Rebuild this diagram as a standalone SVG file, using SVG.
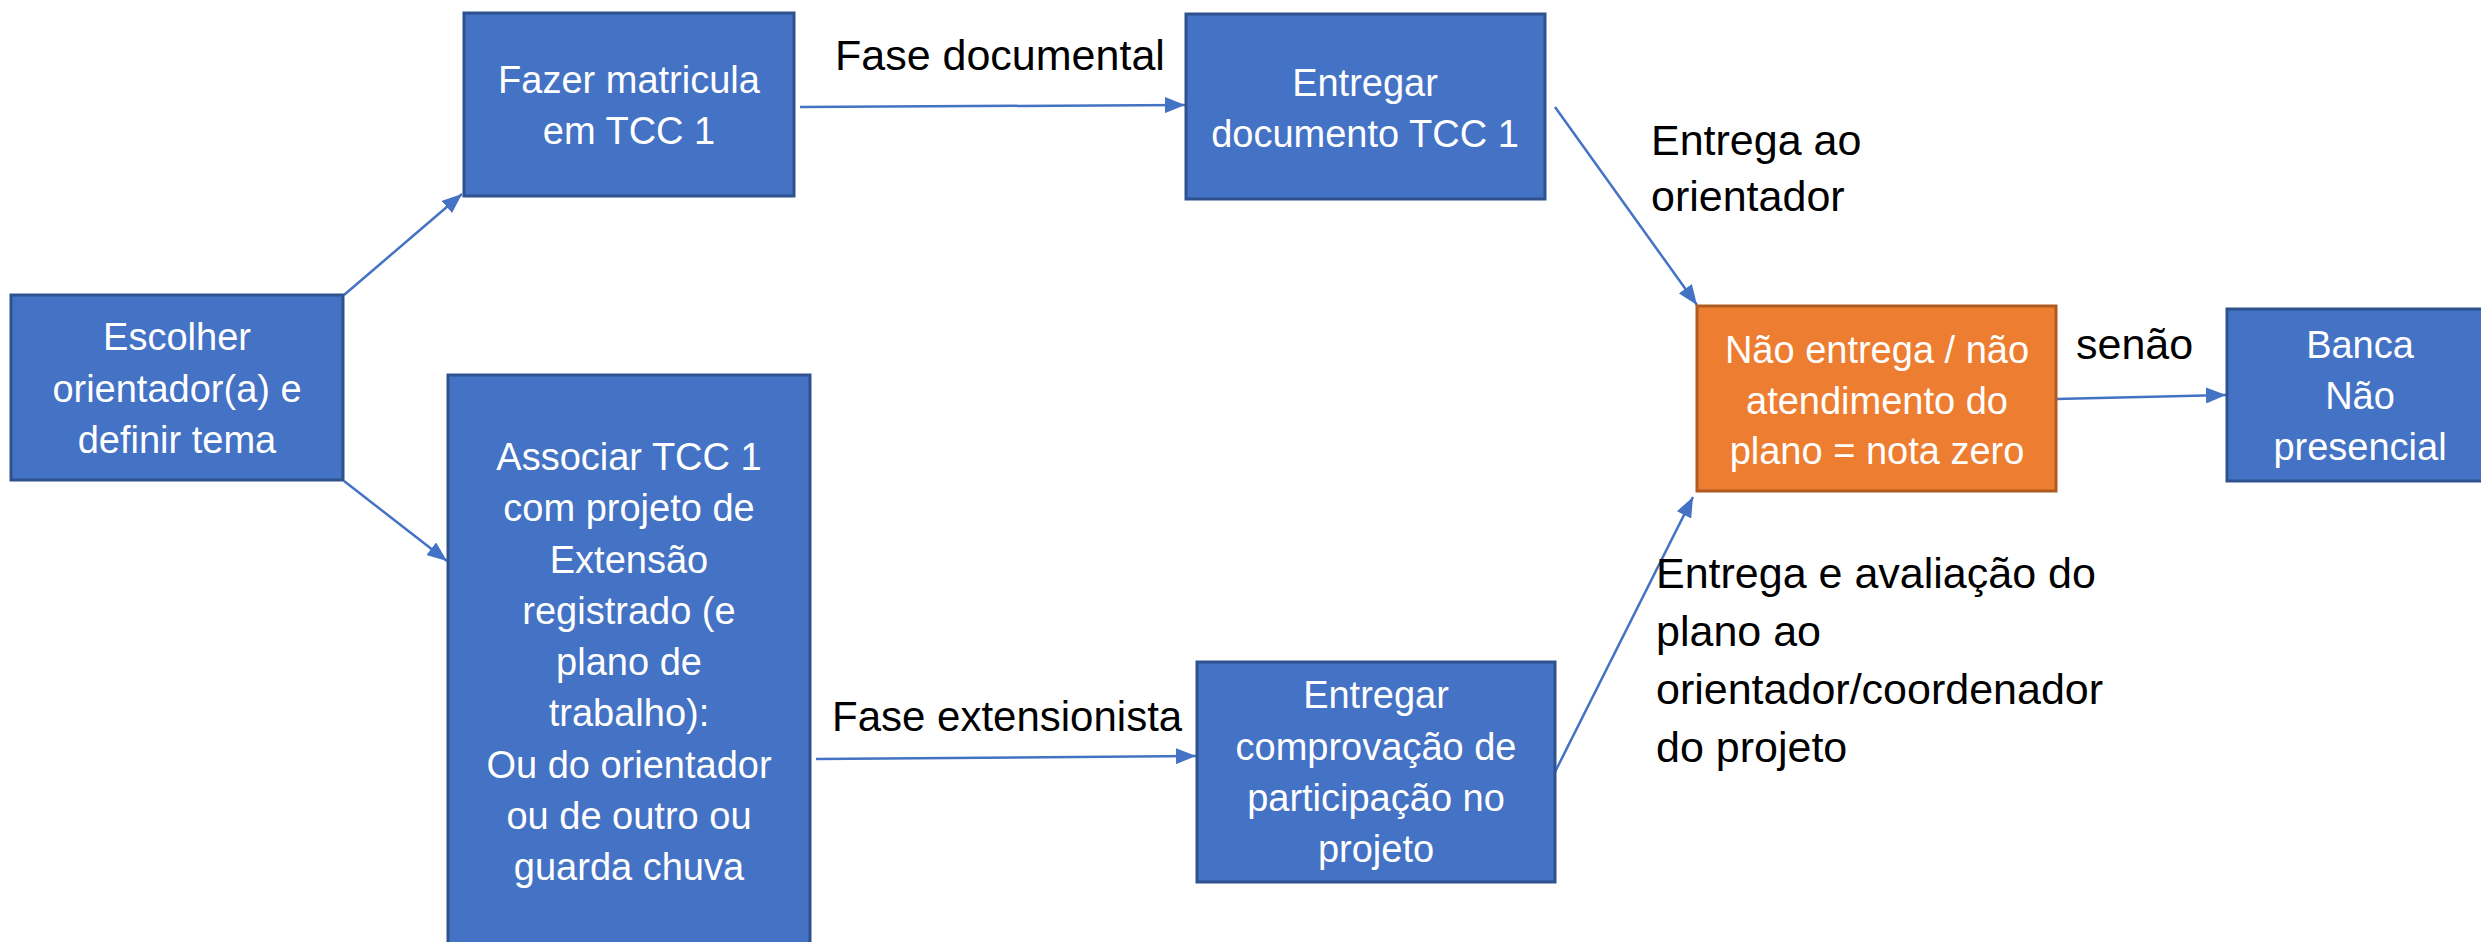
<svg xmlns="http://www.w3.org/2000/svg" width="2481" height="942" viewBox="0 0 2481 942">
<style>
.box{fill:#4472C4;stroke:#2F528F;stroke-width:3}
.obox{fill:#ED7D31;stroke:#AE5A21;stroke-width:3}
.wt{font-family:"Liberation Sans",Arial,sans-serif;font-size:38px;fill:#FFFFFF;text-anchor:middle}
.bt{font-family:"Liberation Sans",Arial,sans-serif;font-size:43px;fill:#000000}
.conn{stroke:#4472C4;stroke-width:2.5;fill:none;marker-end:url(#arr)}
</style>
<defs>
<marker id="arr" markerUnits="userSpaceOnUse" markerWidth="22" markerHeight="16" refX="20" refY="8" orient="auto">
<path d="M0,0 L20,8 L0,16 Z" fill="#4472C4"/>
</marker>
</defs>
<rect width="2481" height="942" fill="#FFFFFF"/>
<g id="connectors">
<line class="conn" x1="344" y1="295" x2="462" y2="194"/>
<line class="conn" x1="344" y1="481" x2="447" y2="561"/>
<line class="conn" x1="800" y1="107" x2="1185" y2="105"/>
<line class="conn" x1="1555" y1="107" x2="1697" y2="305"/>
<line class="conn" x1="816" y1="759" x2="1196" y2="756"/>
<line class="conn" x1="1555" y1="772" x2="1693" y2="497"/>
<line class="conn" x1="2056" y1="399" x2="2226" y2="395"/>
</g>
<g id="escolher">
<rect class="box" x="11" y="295" width="332" height="185"/>
<text class="wt" x="177" y="350">Escolher</text>
<text class="wt" x="177" y="402">orientador(a) e</text>
<text class="wt" x="177" y="453">definir tema</text>
</g>
<g id="fazer">
<rect class="box" x="464" y="13" width="330" height="183"/>
<text class="wt" x="629" y="93">Fazer matricula</text>
<text class="wt" x="629" y="144">em TCC 1</text>
</g>
<g id="entregar-doc">
<rect class="box" x="1186" y="14" width="359" height="185"/>
<text class="wt" x="1365" y="96">Entregar</text>
<text class="wt" x="1365" y="147">documento TCC 1</text>
</g>
<g id="associar">
<rect class="box" x="448" y="375" width="362" height="580"/>
<text class="wt" x="629" y="470">Associar TCC 1</text>
<text class="wt" x="629" y="521">com projeto de</text>
<text class="wt" x="629" y="573">Extensão</text>
<text class="wt" x="629" y="624">registrado (e</text>
<text class="wt" x="629" y="675">plano de</text>
<text class="wt" x="629" y="726">trabalho):</text>
<text class="wt" x="629" y="778">Ou do orientador</text>
<text class="wt" x="629" y="829">ou de outro ou</text>
<text class="wt" x="629" y="880">guarda chuva</text>
</g>
<g id="comprovacao">
<rect class="box" x="1197" y="662" width="358" height="220"/>
<text class="wt" x="1376" y="708">Entregar</text>
<text class="wt" x="1376" y="760">comprovação de</text>
<text class="wt" x="1376" y="811">participação no</text>
<text class="wt" x="1376" y="862">projeto</text>
</g>
<g id="nota-zero">
<rect class="obox" x="1697" y="306" width="359" height="185"/>
<text class="wt" x="1877" y="363">Não entrega / não</text>
<text class="wt" x="1877" y="414">atendimento do</text>
<text class="wt" x="1877" y="464">plano = nota zero</text>
</g>
<g id="banca">
<rect class="box" x="2227" y="309" width="268" height="172"/>
<text class="wt" x="2360" y="358">Banca</text>
<text class="wt" x="2360" y="409">Não</text>
<text class="wt" x="2360" y="460">presencial</text>
</g>
<g id="labels">
<text class="bt" x="835" y="70">Fase documental</text>
<text class="bt" x="1651" y="155">Entrega ao</text>
<text class="bt" x="1651" y="211">orientador</text>
<text class="bt" x="2076" y="359">senão</text>
<text class="bt" x="832" y="731" style="font-size:42px">Fase extensionista</text>
<text class="bt" x="1656" y="588">Entrega e avaliação do</text>
<text class="bt" x="1656" y="646">plano ao</text>
<text class="bt" x="1656" y="704">orientador/coordenador</text>
<text class="bt" x="1656" y="762">do projeto</text>
</g>
</svg>
